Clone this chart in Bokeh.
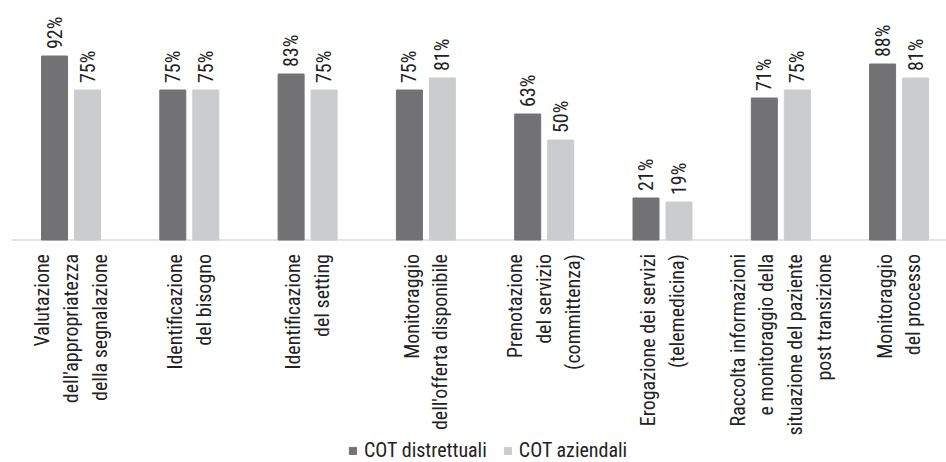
import math
from bokeh.plotting import figure
from bokeh.models import ColumnDataSource, Range1d, Legend, LegendItem
from bokeh.core.properties import value
from bokeh.embed import file_html
from bokeh.resources import INLINE

categories = [
    "Valutazione\ndell'appropriatezza\ndella segnalazione",
    "Identificazione\ndel bisogno",
    "Identificazione\ndel setting",
    "Monitoraggio\ndell'offerta disponibile",
    "Prenotazione\ndel servizio\n(committenza)",
    "Erogazione dei servizi\n(telemedicina)",
    "Raccolta informazioni\ne monitoraggio della\nsituazione del paziente\npost transizione",
    "Monitoraggio\ndel processo",
]
cot_distrettuali = [92, 75, 83, 75, 63, 21, 71, 88]
cot_aziendali = [75, 75, 75, 81, 50, 19, 75, 81]
series_names = ["COT distrettuali", "COT aziendali"]

FONT = "'Roboto Condensed', 'DejaVu Sans Condensed', 'Liberation Sans Narrow', 'Noto Sans'"
DARK = "#727275"
LIGHT = "#cbcccd"
TXT = "#222222"

W, H = 946, 462
px_cat = 118.3
x0 = -70.5 / px_cat
x1 = x0 + W / px_cat
base_px = 239.5
y_top = base_px / 2.0
y_bot = -(H - base_px) / 2.0

p = figure(width=W, height=H, x_range=Range1d(x0, x1), y_range=Range1d(y_bot, y_top),
           output_backend="svg", toolbar_location=None, min_border=0,
           background_fill_color="white", border_fill_color="white")
p.axis.visible = False
p.grid.visible = False
p.outline_line_color = None

off = 16.5 / px_cat
bw = 26 / px_cat
idx = list(range(len(categories)))

src = ColumnDataSource(dict(
    x=idx,
    xd=[i - off for i in idx],
    xl=[i + off for i in idx],
    d=cot_distrettuali,
    a=cot_aziendali,
    dlab=[f"{v}%" for v in cot_distrettuali],
    alab=[f"{v}%" for v in cot_aziendali],
    dy=[v + 3.5 for v in cot_distrettuali],
    ay=[v + 3.5 for v in cot_aziendali],
    cat=categories,
    cy=[-7.0] * len(categories),
))

# baseline
p.segment(x0=[-0.5], y0=[0], x1=[len(categories) - 0.45], y1=[0], line_color="#dcdcdc", line_width=1.5)

r1 = p.vbar(x="xd", top="d", bottom=0, width=bw, source=src, fill_color=DARK, line_color=DARK)
r2 = p.vbar(x="xl", top="a", bottom=0, width=bw, source=src, fill_color=LIGHT, line_color=LIGHT)

for xs, ys, labs in (("xd", "dy", "dlab"), ("xl", "ay", "alab")):
    p.text(x=xs, y=ys, text=labs, source=src, angle=math.pi / 2, text_align="left",
           text_baseline="middle", text_font=value(FONT), text_font_size="20px", text_color=TXT)

p.text(x="x", y="cy", text="cat", source=src, angle=math.pi / 2, text_align="right",
       text_baseline="middle", text_font=value(FONT), text_font_size="20px", text_color=TXT,
       text_line_height=1.2)

legend = Legend(items=[LegendItem(label=series_names[0], renderers=[r1]),
                       LegendItem(label=series_names[1], renderers=[r2])],
                orientation="horizontal", location=(348, 0),
                glyph_width=9, glyph_height=9, label_standoff=7, spacing=16,
                label_text_font=FONT, label_text_font_size="20px", label_text_color=TXT,
                border_line_color=None, background_fill_alpha=0, padding=0, margin=0)
p.add_layout(legend)

open("out.html", "w").write(file_html(p, INLINE))
